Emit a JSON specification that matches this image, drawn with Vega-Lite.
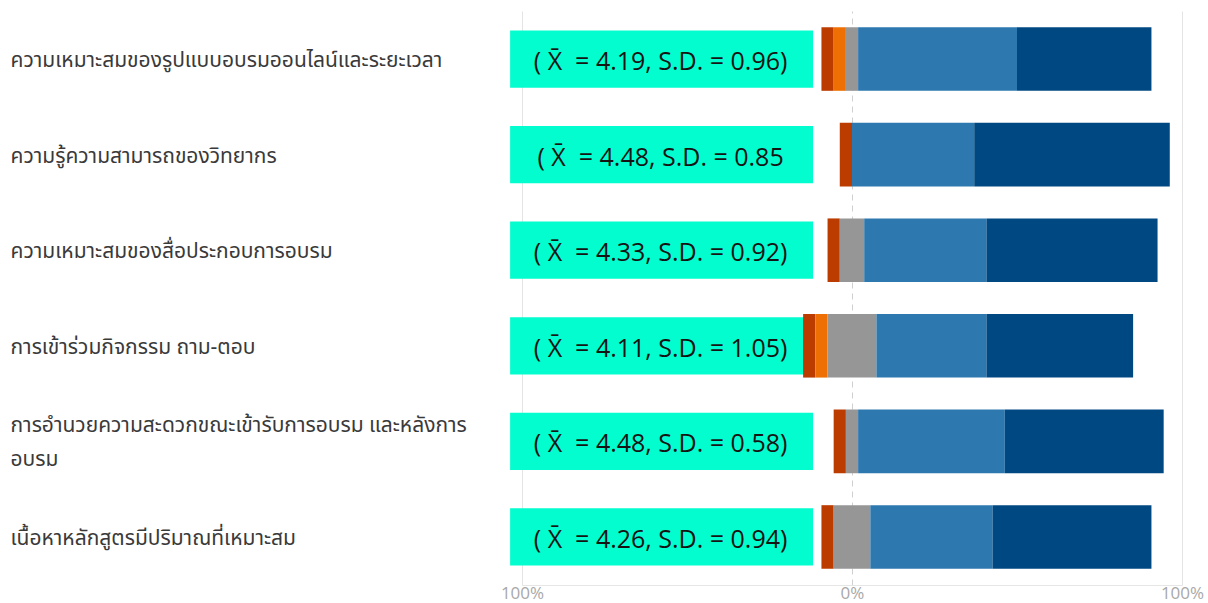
{
  "$schema": "https://vega.github.io/schema/vega-lite/v6.json",
  "width": 660,
  "height": 574,
  "autosize": {"type": "none"},
  "padding": {"left": 522, "top": 11, "right": 26, "bottom": 18},
  "background": "white",
  "config": {"view": {"stroke": null}, "font": "Open Sans"},
  "datasets": {
    "responses": [
      {"question": "ความเหมาะสมของรูปแบบอบรมออนไลน์และระยะเวลา", "type": 1, "count": 1},
      {"question": "ความเหมาะสมของรูปแบบอบรมออนไลน์และระยะเวลา", "type": 2, "count": 1},
      {"question": "ความเหมาะสมของรูปแบบอบรมออนไลน์และระยะเวลา", "type": 3, "count": 1},
      {"question": "ความเหมาะสมของรูปแบบอบรมออนไลน์และระยะเวลา", "type": 4, "count": 13},
      {"question": "ความเหมาะสมของรูปแบบอบรมออนไลน์และระยะเวลา", "type": 5, "count": 11},
      {"question": "ความรู้ความสามารถของวิทยากร", "type": 1, "count": 1},
      {"question": "ความรู้ความสามารถของวิทยากร", "type": 4, "count": 10},
      {"question": "ความรู้ความสามารถของวิทยากร", "type": 5, "count": 16},
      {"question": "ความเหมาะสมของสื่อประกอบการอบรม", "type": 1, "count": 1},
      {"question": "ความเหมาะสมของสื่อประกอบการอบรม", "type": 3, "count": 2},
      {"question": "ความเหมาะสมของสื่อประกอบการอบรม", "type": 4, "count": 10},
      {"question": "ความเหมาะสมของสื่อประกอบการอบรม", "type": 5, "count": 14},
      {"question": "การเข้าร่วมกิจกรรม ถาม-ตอบ", "type": 1, "count": 1},
      {"question": "การเข้าร่วมกิจกรรม ถาม-ตอบ", "type": 2, "count": 1},
      {"question": "การเข้าร่วมกิจกรรม ถาม-ตอบ", "type": 3, "count": 4},
      {"question": "การเข้าร่วมกิจกรรม ถาม-ตอบ", "type": 4, "count": 9},
      {"question": "การเข้าร่วมกิจกรรม ถาม-ตอบ", "type": 5, "count": 12},
      {"question": "การอำนวยความสะดวกขณะเข้ารับการอบรม และหลังการอบรม", "type": 1, "count": 1},
      {"question": "การอำนวยความสะดวกขณะเข้ารับการอบรม และหลังการอบรม", "type": 3, "count": 1},
      {"question": "การอำนวยความสะดวกขณะเข้ารับการอบรม และหลังการอบรม", "type": 4, "count": 12},
      {"question": "การอำนวยความสะดวกขณะเข้ารับการอบรม และหลังการอบรม", "type": 5, "count": 13},
      {"question": "เนื้อหาหลักสูตรมีปริมาณที่เหมาะสม", "type": 1, "count": 1},
      {"question": "เนื้อหาหลักสูตรมีปริมาณที่เหมาะสม", "type": 3, "count": 3},
      {"question": "เนื้อหาหลักสูตรมีปริมาณที่เหมาะสม", "type": 4, "count": 10},
      {"question": "เนื้อหาหลักสูตรมีปริมาณที่เหมาะสม", "type": 5, "count": 13}
    ],
    "stats": [
      {"question": "ความเหมาะสมของรูปแบบอบรมออนไลน์และระยะเวลา", "label": "( X̄\u00a0 = 4.19, S.D. = 0.96)"},
      {"question": "ความรู้ความสามารถของวิทยากร", "label": "( X̄\u00a0 = 4.48, S.D. = 0.85"},
      {"question": "ความเหมาะสมของสื่อประกอบการอบรม", "label": "( X̄\u00a0 = 4.33, S.D. = 0.92)"},
      {"question": "การเข้าร่วมกิจกรรม ถาม-ตอบ", "label": "( X̄\u00a0 = 4.11, S.D. = 1.05)"},
      {"question": "การอำนวยความสะดวกขณะเข้ารับการอบรม และหลังการอบรม", "label": "( X̄\u00a0 = 4.48, S.D. = 0.58)"},
      {"question": "เนื้อหาหลักสูตรมีปริมาณที่เหมาะสม", "label": "( X̄\u00a0 = 4.26, S.D. = 0.94)"}
    ]
  },
  "layer": [
    {
      "data": {"name": "stats"},
      "mark": {"type": "bar", "height": {"band": 0.9}, "color": "#03FDCE"},
      "encoding": {
        "y": {
          "field": "question",
          "type": "nominal",
          "sort": null,
          "scale": {
            "domain": [
              "ความเหมาะสมของรูปแบบอบรมออนไลน์และระยะเวลา",
              "ความรู้ความสามารถของวิทยากร",
              "ความเหมาะสมของสื่อประกอบการอบรม",
              "การเข้าร่วมกิจกรรม ถาม-ตอบ",
              "การอำนวยความสะดวกขณะเข้ารับการอบรม และหลังการอบรม",
              "เนื้อหาหลักสูตรมีปริมาณที่เหมาะสม"
            ],
            "paddingInner": 0.335,
            "paddingOuter": 0.17
          },
          "axis": {
            "title": null,
            "domain": false,
            "ticks": false,
            "labelAlign": "left",
            "labelPadding": 512,
            "labelFontSize": 21,
            "labelColor": "#3a3a3a",
            "labelFont": "Noto Sans Thai, Tahoma, sans-serif",
            "labelLimit": 0,
            "labelLineHeight": 34,
            "labelOffset": {"condition": {"test": "datum.value == 'การอำนวยความสะดวกขณะเข้ารับการอบรม และหลังการอบรม'", "value": -15}, "value": 2},
            "labelExpr": "datum.value == 'การอำนวยความสะดวกขณะเข้ารับการอบรม และหลังการอบรม' ? ['การอำนวยความสะดวกขณะเข้ารับการอบรม และหลังการ', 'อบรม'] : datum.label"
          }
        },
        "x": {
          "datum": -103.6,
          "type": "quantitative",
          "scale": {"domain": [-100, 100]},
          "axis": {
            "title": null,
            "values": [-100, 0, 100],
            "labelExpr": "abs(datum.value) + '%'",
            "grid": true,
            "gridColor": {"condition": {"test": "datum.value === 0", "value": "#cfcfcf"}, "value": "#e4e4e4"},
            "gridDash": {"condition": {"test": "datum.value === 0", "value": [6, 5]}, "value": []},
            "domainColor": "#e6e6e6",
            "ticks": false,
            "labelColor": "#a8a8a8",
            "labelFontSize": 17,
            "labelFlush": false,
            "labelOverlap": false,
            "labelPadding": 0
          }
        },
        "x2": {"datum": -11.8}
      }
    },
    {
      "data": {"name": "responses"},
      "transform": [
        {"joinaggregate": [{"op": "sum", "field": "count", "as": "total"}], "groupby": ["question"]},
        {"calculate": "datum.count / datum.total * 100", "as": "pct"},
        {"calculate": "datum.type < 3 ? datum.pct : (datum.type == 3 ? datum.pct / 2 : 0)", "as": "neg"},
        {"joinaggregate": [{"op": "sum", "field": "neg", "as": "offset"}], "groupby": ["question"]},
        {"window": [{"op": "sum", "field": "pct", "as": "cum"}], "groupby": ["question"], "sort": [{"field": "type"}], "frame": [null, 0]},
        {"calculate": "datum.cum - datum.pct - datum.offset", "as": "x0"},
        {"calculate": "datum.cum - datum.offset", "as": "x1"}
      ],
      "mark": {"type": "bar"},
      "encoding": {
        "y": {"field": "question", "type": "nominal", "sort": null},
        "x": {"field": "x0", "type": "quantitative"},
        "x2": {"field": "x1"},
        "color": {
          "field": "type",
          "type": "ordinal",
          "scale": {"domain": [1, 2, 3, 4, 5], "range": ["#BC3C00", "#EE7004", "#969696", "#2C78AF", "#004881"]},
          "legend": null
        }
      }
    },
    {
      "data": {"name": "stats"},
      "mark": {"type": "text", "font": "Open Sans", "fontSize": 25, "color": "#141414", "align": "center", "baseline": "middle", "dy": 3},
      "encoding": {
        "y": {"field": "question", "type": "nominal", "sort": null},
        "x": {"datum": -58, "type": "quantitative"},
        "text": {"field": "label"}
      }
    }
  ]
}
